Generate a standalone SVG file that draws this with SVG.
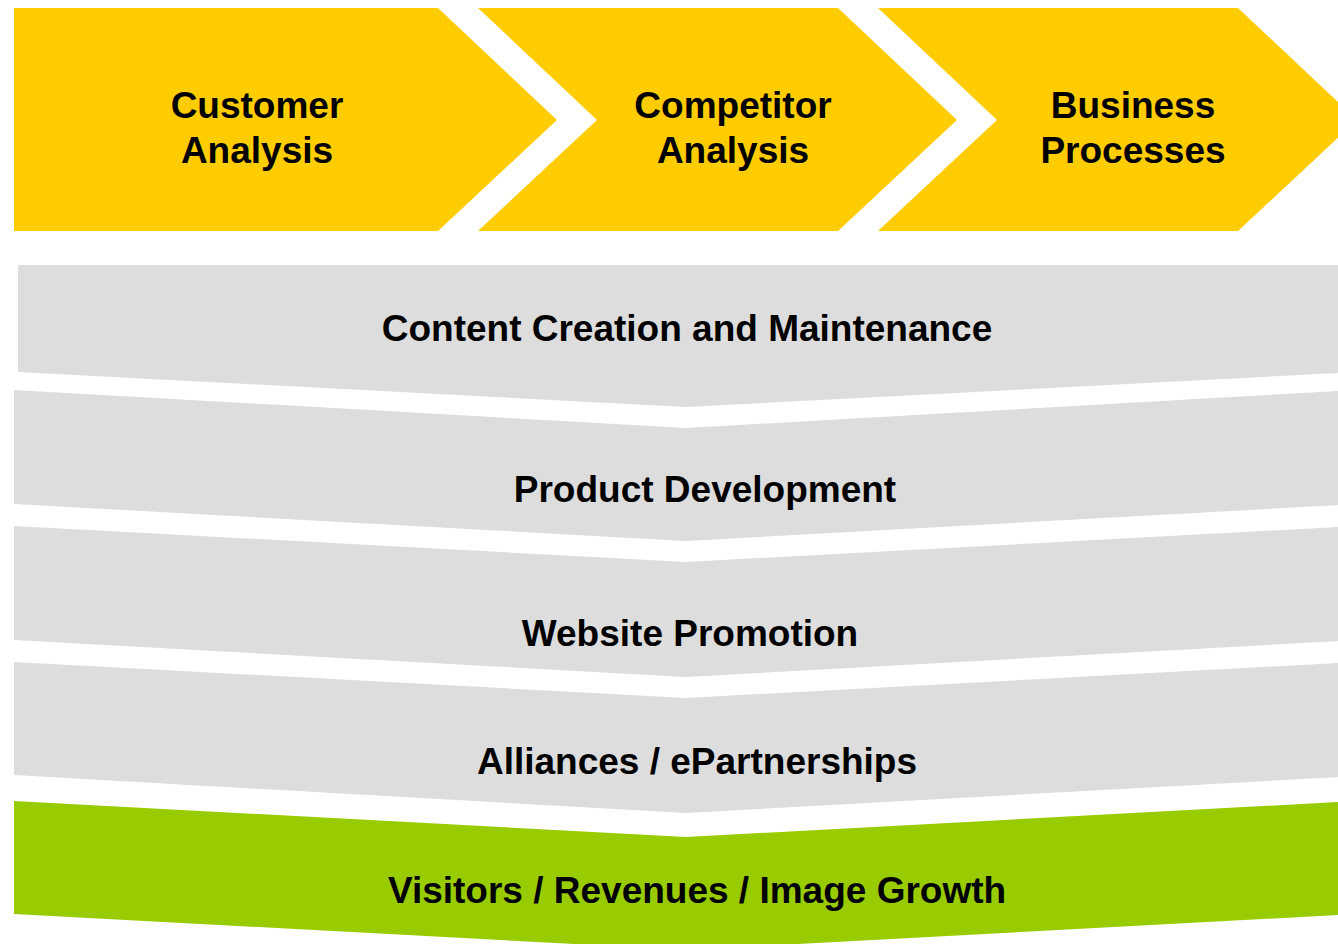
<svg xmlns="http://www.w3.org/2000/svg" width="1338" height="944" viewBox="0 0 1338 944">
<style>
.y{fill:#FFCC00}
.g{fill:#DDDDDD}
.gr{fill:#99CC00}
text{font-family:"Liberation Sans",Arial,sans-serif;font-weight:bold;font-size:37px;fill:#000;text-anchor:middle}
</style>
<rect width="1338" height="944" fill="#fff"/>
<g id="customer-analysis">
<polygon class="y" points="14,8 438,8 557,120 438,231 14,231"/>
<text x="257" y="118">Customer</text>
<text x="257" y="163">Analysis</text>
</g>
<g id="competitor-analysis">
<polygon class="y" points="478,8 838,8 957,120 838,231 478,231 597,120"/>
<text x="733" y="118">Competitor</text>
<text x="733" y="163">Analysis</text>
</g>
<g id="business-processes">
<polygon class="y" points="878,8 1238,8 1357,120 1238,231 878,231 997,120"/>
<text x="1133" y="118">Business</text>
<text x="1133" y="163">Processes</text>
</g>
<g id="content-creation">
<polygon class="g" points="18,265 1338,265 1338,373 686,407 18,372"/>
<text x="687" y="341">Content Creation and Maintenance</text>
</g>
<g id="product-development">
<polygon class="g" points="14,390 686,428 1338,391 1338,505 686,541 14,504"/>
<text x="705" y="502">Product Development</text>
</g>
<g id="website-promotion">
<polygon class="g" points="14,526 686,562 1338,527 1338,641 686,677 14,640"/>
<text x="690" y="646">Website Promotion</text>
</g>
<g id="alliances">
<polygon class="g" points="14,662 686,698 1338,663 1338,777 686,813 14,775"/>
<text x="697" y="774">Alliances / ePartnerships</text>
</g>
<g id="growth">
<polygon class="gr" points="14,801 686,837 1338,802 1338,915 686,950 14,914"/>
<text x="697" y="903">Visitors / Revenues / Image Growth</text>
</g>
<g id="connectors"></g>
</svg>
